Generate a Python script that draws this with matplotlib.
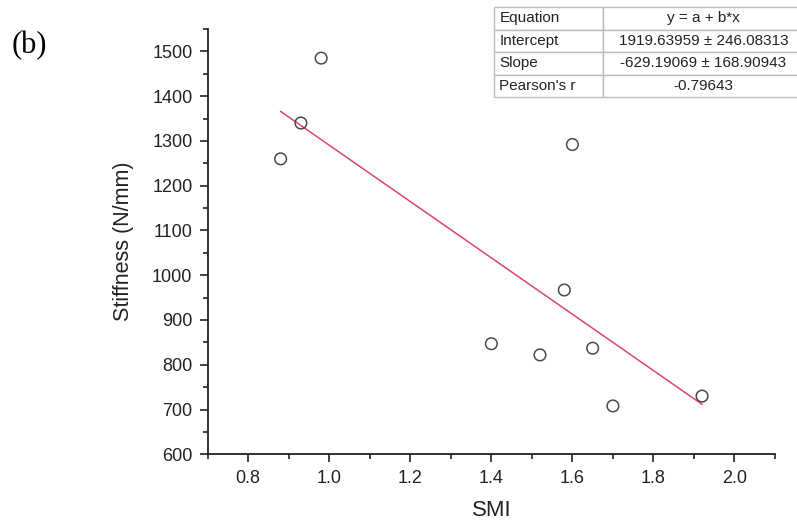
import numpy as np
import matplotlib
matplotlib.use("Agg")
import matplotlib.pyplot as plt
from matplotlib.ticker import MultipleLocator

plt.rcParams['font.family'] = ['Liberation Sans', 'DejaVu Sans']

# Data
smi = [0.88, 0.93, 0.98, 1.40, 1.52, 1.58, 1.60, 1.65, 1.70, 1.92]
stiffness = [1260, 1340, 1485, 847, 822, 967, 1292, 837, 708, 730]

# Linear fit reported in the table
intercept = 1919.63959
intercept_err = 246.08313
slope = -629.19069
slope_err = 168.90943
pearson_r = -0.79643

fig = plt.figure(figsize=(7.97, 5.22), dpi=100)
ax = fig.add_axes([0.2606, 0.1297, 0.9724 - 0.2606, 0.9444 - 0.1297])

ax.scatter(smi, stiffness, s=70, facecolors='none', edgecolors='#4a4a4a',
           linewidths=1.1, zorder=3)

xfit = np.array([min(smi), max(smi)])
ax.plot(xfit, intercept + slope * xfit, color='#d9466b', lw=1.1, zorder=2)

ax.set_xlim(0.7, 2.1)
ax.set_ylim(600, 1550)
ax.xaxis.set_major_locator(MultipleLocator(0.2))
ax.xaxis.set_minor_locator(MultipleLocator(0.1))
ax.yaxis.set_major_locator(MultipleLocator(100))
ax.yaxis.set_minor_locator(MultipleLocator(50))
ax.xaxis.set_major_formatter(matplotlib.ticker.FormatStrFormatter('%.1f'))

for s in ['top', 'right']:
    ax.spines[s].set_visible(False)
for s in ['left', 'bottom']:
    ax.spines[s].set_linewidth(1.3)
    ax.spines[s].set_color('#222222')

ax.tick_params(which='major', direction='out', length=6, width=1.2,
               labelsize=13, colors='#222222', pad=5)
ax.tick_params(which='minor', direction='out', length=3.5, width=1.2,
               colors='#222222')

ax.set_xlabel('SMI', fontsize=16, labelpad=10, color='#222222')
ax.set_ylabel('Stiffness (N/mm)', fontsize=15.5, labelpad=13, color='#222222')

fig.text(0.014, 0.913, '(b)', family='Liberation Serif', fontsize=22,
         va='center', ha='left')

# Fit results table
tax = fig.add_axes([494 / 797, 1 - 97 / 522, 310 / 797, 90 / 522])
tax.axis('off')
cells = [['Equation', 'y = a + b*x'],
         ['Intercept', f'{intercept:.5f} \u00b1 {intercept_err:.5f}'],
         ['Slope', f'{slope:.5f} \u00b1 {slope_err:.5f}'],
         ["Pearson's r", f'{pearson_r:.5f}']]
tab = tax.table(cellText=cells, bbox=[0, 0, 1, 1],
                colWidths=[109 / 310, 201 / 310], cellLoc='center')
tab.auto_set_font_size(False)
for (r, c), cell in tab.get_celld().items():
    cell.set_edgecolor('#b8bcbc')
    cell.set_linewidth(1.0)
    cell.get_text().set_fontsize(11)
    cell.get_text().set_color('#222222')
    if c == 0:
        cell.get_text().set_ha('left')
        cell.PAD = 0.05

fig.savefig('out.png', dpi=100)
